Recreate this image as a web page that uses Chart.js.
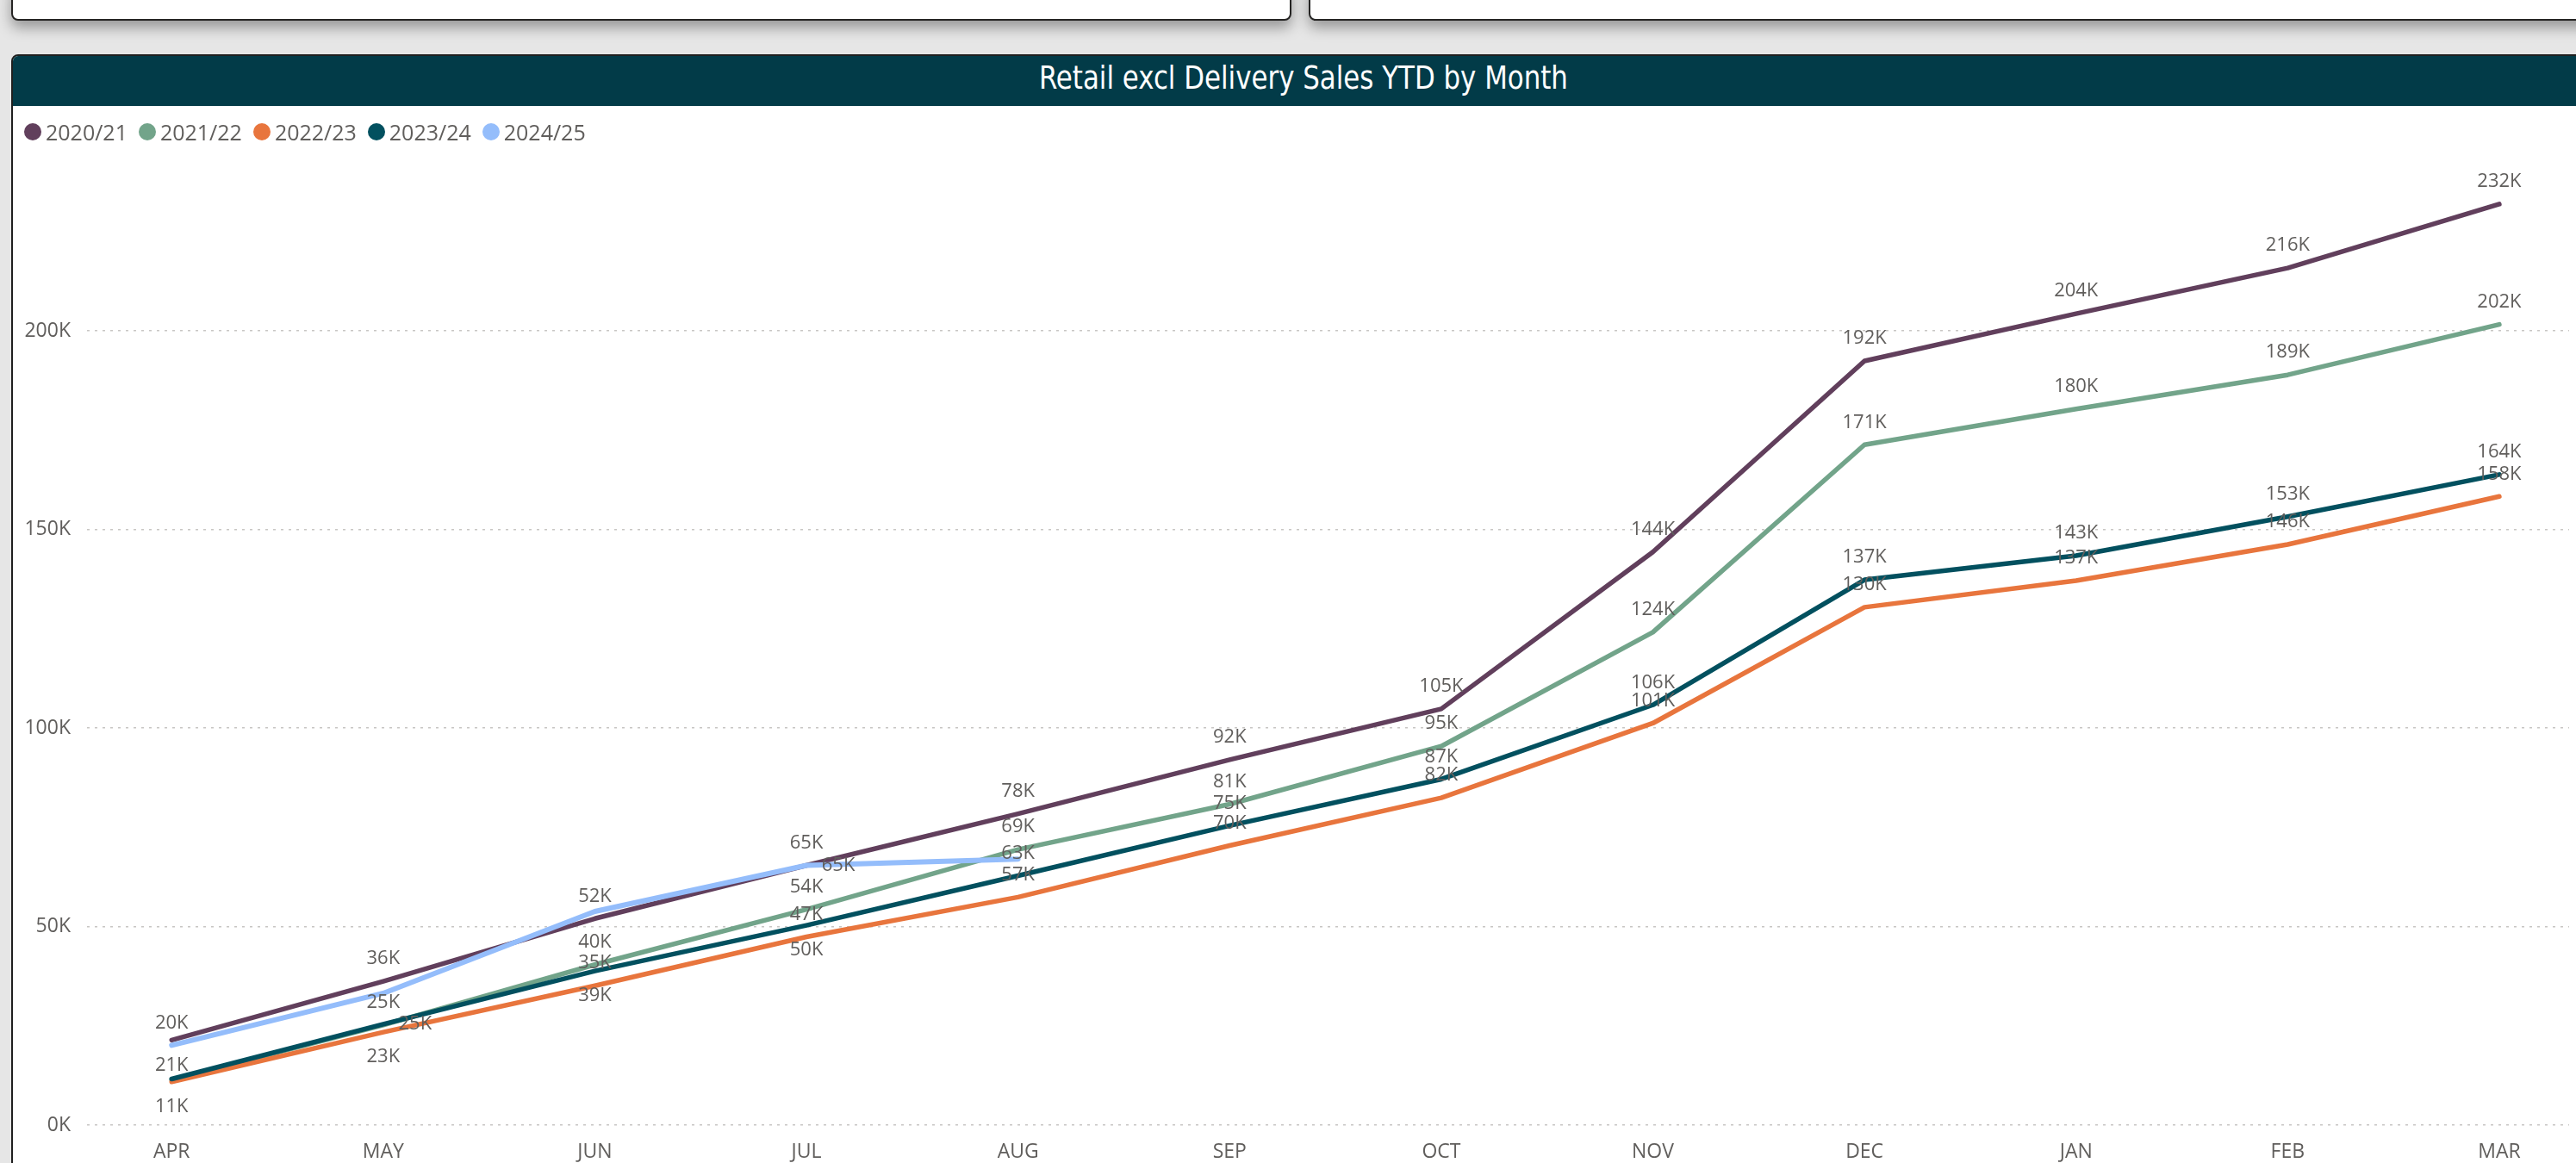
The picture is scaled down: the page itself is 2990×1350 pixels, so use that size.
<!DOCTYPE html>
<html>
<head>
<meta charset="utf-8">
<script src="https://cdn.jsdelivr.net/npm/chart.js@4.4.1/dist/chart.umd.min.js"></script>
<style>
  html, body { margin: 0; padding: 0; }
  body {
    width: 2990px; height: 1350px; overflow: hidden; position: relative;
    background: #e6e6e6;
    font-family: "Segoe UI", "Open Sans", sans-serif;
  }
  .card {
    position: absolute; top: -20px; height: 40px;
    background: #fff; border: 2px solid #252423; border-radius: 8px;
    box-shadow: 0 8px 16px rgba(0, 0, 0, 0.35);
  }
  #panel {
    position: absolute; left: 13px; top: 63px; width: 2996px; height: 1400px;
    background: #fff; border: 2px solid #1f1f1f; border-radius: 8px; overflow: hidden;
  }
  #titleBar {
    position: absolute; left: 0; top: 0; right: 0; height: 58px;
    background: #023b48; color: #fff; text-align: center;
  }
  #title {
    display: inline-block; line-height: 56px; margin-top: 3px; white-space: nowrap;
    font: 38px "Liberation Sans Narrow", "DejaVu Sans Condensed", Roboto, sans-serif;
    transform-origin: center center;
  }
  #legend {
    position: absolute; left: 28px; top: 138px; height: 30px;
    display: flex; align-items: center; gap: 13px;
    font-size: 25px; color: #605e5c; z-index: 2;
  }
  #legend .item { display: flex; align-items: center; gap: 5px; }
  #legend .dot { width: 20px; height: 20px; border-radius: 50%; }
  #chartBox {
    position: absolute; left: 16px; top: 126px; width: 2974px; height: 1224px;
  }
</style>
</head>
<body>
<div class="card" style="left:13px; width:1482px;"></div>
<div class="card" style="left:1519px; width:1500px;"></div>
<div id="panel">
  <div id="titleBar"><span id="title">Retail excl Delivery Sales YTD by Month</span></div>
</div>
<div id="legend"></div>
<div id="chartBox"><canvas id="ytdChart"></canvas></div>

<script>
// months of the financial year
const months = ['APR', 'MAY', 'JUN', 'JUL', 'AUG', 'SEP', 'OCT', 'NOV', 'DEC', 'JAN', 'FEB', 'MAR'];

// cumulative sales per year
const sales2020 = [21400, 36200, 52000, 65400, 78400, 92000, 104800, 144300, 192400, 204300, 215800, 231900];
const sales2021 = [11400, 25200, 40400, 54300, 69400, 80800, 95400, 124100, 171300, 180300, 188900, 201600];
const sales2022 = [10900, 23400, 35100, 47400, 57400, 70400, 82400, 101200, 130400, 137100, 146200, 158300];
const sales2023 = [11600, 25400, 38800, 50300, 62800, 75400, 87100, 105800, 137300, 143400, 153200, 163800];
const sales2024 = [20100, 33200, 53800, 65400, 67000];

const yTicks = [0, 50000, 100000, 150000, 200000];

const series = [
  { label: '2020/21', data: sales2020, color: '#613f5c' },
  { label: '2021/22', data: sales2021, color: '#72a48a' },
  { label: '2022/23', data: sales2022, color: '#e8753d' },
  { label: '2023/24', data: sales2023, color: '#02505f' },
  { label: '2024/25', data: sales2024, color: '#94bdfb' },
];

// which data labels show (a = above, b = below, r = right, '' = hidden), like the report
const labelPlacement = {
  '2020/21': ['b', 'a', 'a', 'a', 'a', 'a', 'a', 'a', 'a', 'a', 'a', 'a'],
  '2021/22': ['', 'a', 'a', 'a', 'a', 'a', 'a', 'a', 'a', 'a', 'a', 'a'],
  '2022/23': ['b', 'b', 'a', 'a', 'a', 'a', 'a', 'a', 'a', 'a', 'a', 'a'],
  '2023/24': ['', 'r', 'b', 'b', 'a', 'a', 'a', 'a', 'a', 'a', 'a', 'a'],
  '2024/25': ['a', '', '', 'r', ''],
};

const fmtK = (v) => Math.round(v / 1000) + 'K';
const textColor = '#605e5c';
const fontFamily = '"Segoe UI", "Open Sans", sans-serif';

// fit the title to the width used in the report
const title = document.getElementById('title');
title.style.transform = 'scaleX(' + (614 / title.getBoundingClientRect().width) + ')';

// legend
const legendEl = document.getElementById('legend');
series.forEach((s) => {
  const item = document.createElement('div');
  item.className = 'item';
  item.innerHTML = '<span class="dot" style="background:' + s.color + '"></span><span>' + s.label + '</span>';
  legendEl.appendChild(item);
});

const valueLabels = {
  id: 'valueLabels',
  afterDatasetsDraw(chart) {
    const ctx = chart.ctx;
    ctx.save();
    ctx.font = '22px ' + fontFamily;
    ctx.fillStyle = textColor;
    ctx.textAlign = 'center';
    ctx.textBaseline = 'middle';
    chart.data.datasets.forEach((ds, i) => {
      const meta = chart.getDatasetMeta(i);
      const places = labelPlacement[ds.label] || [];
      meta.data.forEach((pt, j) => {
        const where = places[j];
        if (!where) return;
        let x = pt.x;
        let y = pt.y;
        if (where === 'a') y -= 26;
        else if (where === 'b') y += 29;
        else if (where === 'r') x += 37;
        ctx.fillText(fmtK(ds.data[j].y), x, y);
      });
    });
    ctx.restore();
  },
};

const ctx = document.getElementById('ytdChart').getContext('2d');
const ytdChart = new Chart(ctx, {
  type: 'line',
  data: {
    datasets: series.map((s, i) => ({
      label: s.label,
      data: s.data.map((v, idx) => ({ x: idx, y: v })),
      borderColor: s.color,
      backgroundColor: s.color,
      borderWidth: s.label === '2024/25' ? 6 : 5.5,
      borderCapStyle: 'round',
      borderJoinStyle: 'round',
      pointRadius: 0,
      pointHoverRadius: 0,
      tension: 0,
      order: series.length - i, // later years drawn on top
    })),
  },
  options: {
    responsive: true,
    maintainAspectRatio: false,
    animation: false,
    devicePixelRatio: 1,
    layout: { padding: { top: 73.6, right: 8, bottom: 0, left: 0 } },
    plugins: {
      legend: { display: false },
      title: { display: false },
      tooltip: { enabled: false },
    },
    scales: {
      x: {
        type: 'linear',
        min: -0.4,
        max: 11.33,
        grid: { display: false },
        border: { display: false },
        ticks: {
          maxRotation: 0,
          autoSkip: false,
          padding: 10,
          color: textColor,
          font: { family: fontFamily, size: 23 },
          callback: (v) => months[v] || '',
        },
        afterBuildTicks: (scale) => { scale.ticks = months.map((m, i) => ({ value: i })); },
        afterFit: (scale) => { scale.height = 44; },
      },
      y: {
        min: 0,
        max: 240000,
        grid: { color: '#c8c6c4', lineWidth: 1.5, drawTicks: false },
        border: { display: false, dash: [3, 6] },
        ticks: {
          padding: 19,
          color: textColor,
          font: { family: fontFamily, size: 23 },
          callback: (v) => fmtK(v),
        },
        afterBuildTicks: (scale) => { scale.ticks = yTicks.map((v) => ({ value: v })); },
        afterFit: (scale) => { scale.width = 85; },
      },
    },
  },
  plugins: [valueLabels],
});
</script>
</body>
</html>
